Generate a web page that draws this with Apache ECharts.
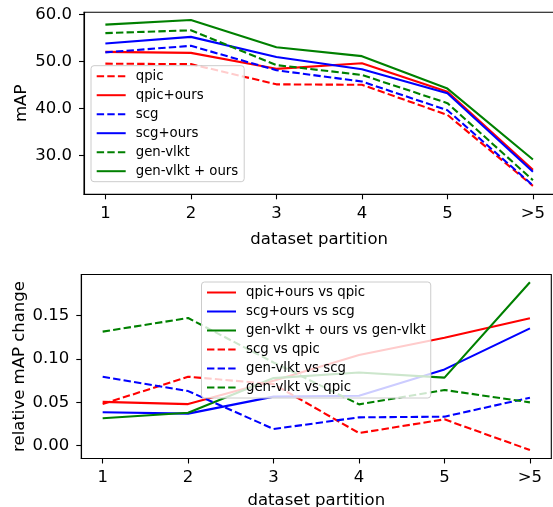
<!DOCTYPE html>
<html>
<head>
<meta charset="utf-8">
<script src="https://cdn.jsdelivr.net/npm/echarts@6/dist/echarts.min.js"></script>
<style>
html,body{margin:0;padding:0;background:#fff;}
#c{width:553px;height:507px;}
</style>
</head>
<body>
<div id="c"></div>
<script>
// ---- data ----
const categories = ['1', '2', '3', '4', '5', '>5'];

// top chart (mAP)
const qpic        = [49.5, 49.4, 45.1, 45.0, 38.6, 23.5];
const qpicOurs    = [52.0, 51.8, 48.4, 49.6, 43.5, 26.9];
const scg         = [51.9, 53.3, 48.1, 45.7, 39.6, 23.6];
const scgOurs     = [53.8, 55.2, 50.9, 48.3, 43.2, 26.5];
const genvlkt     = [56.0, 56.6, 49.2, 47.1, 41.1, 24.7];
const genvlktOurs = [57.8, 58.8, 53.0, 51.1, 44.2, 29.1];
const topTicks    = [30, 40, 50, 60];

// bottom chart (relative mAP change)
const qpicOursVsQpic       = [0.0505, 0.048, 0.075, 0.1046, 0.1246, 0.147];
const scgOursVsScg         = [0.0385, 0.037, 0.0566, 0.0577, 0.088, 0.1354];
const genvlktOursVsGenvlkt = [0.0316, 0.038, 0.078, 0.0845, 0.0785, 0.1885];
const scgVsQpic            = [0.048, 0.0796, 0.071, 0.0146, 0.0304, -0.005];
const genvlktVsScg         = [0.0796, 0.063, 0.0193, 0.0327, 0.0335, 0.0554];
const genvlktVsQpic        = [0.1316, 0.1473, 0.096, 0.0477, 0.0643, 0.050];
const bottomTicks          = [0, 0.05, 0.10, 0.15];

// ---- chart ----
const FONT = 'DejaVu Sans';
const RED = '#ff0000', BLUE = '#0000ff', GREEN = '#008000';
const DASH = [7.4, 3.2];
const xIdx = categories.map((_, i) => i);

function mk(name, arr, color, dashed, gi) {
  return {
    name: name, type: 'line', xAxisIndex: gi, yAxisIndex: gi,
    data: arr.map((v, i) => [i, v]),
    symbol: 'none', showSymbol: false, silent: true,
    lineStyle: { color: color, width: 2.1, type: dashed ? DASH : 'solid', cap: 'butt' },
    itemStyle: { color: color },
    z: 2
  };
}

function xAx(gi, nameGap) {
  return {
    type: 'value', gridIndex: gi, min: -0.25, max: 5.25,
    name: 'dataset partition', nameLocation: 'middle', nameGap: nameGap, nameMoveOverlap: false,
    nameTextStyle: { fontFamily: FONT, fontSize: 16.5, color: '#000' },
    axisLine: { show: true, onZero: false, lineStyle: { color: '#000', width: 1.1 } },
    axisTick: { show: true, inside: false, length: 5, customValues: xIdx, lineStyle: { color: '#000', width: 1.1 } },
    axisLabel: { show: true, customValues: xIdx, margin: 11, fontFamily: FONT, fontSize: 16.5, color: '#000',
      formatter: v => categories[Math.round(v)] },
    splitLine: { show: false }
  };
}

function yAx(gi, min, max, ticks, dec, name, nameGap) {
  return {
    type: 'value', gridIndex: gi, min: min, max: max,
    name: name, nameLocation: 'middle', nameRotate: 90, nameGap: nameGap, nameMoveOverlap: false,
    nameTextStyle: { fontFamily: FONT, fontSize: 16.5, color: '#000' },
    axisLine: { show: true, onZero: false, lineStyle: { color: '#000', width: 1.1 } },
    axisTick: { show: true, inside: false, length: 5, customValues: ticks, lineStyle: { color: '#000', width: 1.1 } },
    axisLabel: { show: true, customValues: ticks, margin: 12, fontFamily: FONT, fontSize: 16.5, color: '#000',
      formatter: v => Number(v).toFixed(dec) },
    splitLine: { show: false }
  };
}

const legendCommon = {
  orient: 'vertical',
  itemWidth: 29, itemHeight: 14, itemGap: 6,
  backgroundColor: 'rgba(255,255,255,0.8)',
  borderColor: '#cccccc', borderWidth: 1, borderRadius: 3,
  textStyle: { fontFamily: FONT, fontSize: 13.3, color: '#000', padding: [0, 0, 0, 5] },
  itemStyle: { opacity: 0, borderWidth: 0 },
  selectedMode: false,
  z: 10
};

const chart = echarts.init(document.getElementById('c'), null, { renderer: 'canvas' });
chart.setOption({
  animation: false,
  backgroundColor: '#fff',
  grid: [
    { left: 84, top: 12.3, width: 470.3, height: 182, show: true, borderColor: '#000', borderWidth: 1.1,
      backgroundColor: 'transparent', containLabel: false, outerBoundsMode: 'none' },
    { left: 81.3, top: 274.5, width: 470, height: 184, show: true, borderColor: '#000', borderWidth: 1.1,
      backgroundColor: 'transparent', containLabel: false, outerBoundsMode: 'none' }
  ],
  xAxis: [xAx(0, 37), xAx(1, 34)],
  yAxis: [
    yAx(0, 21.70, 60.43, topTicks, 1, 'mAP', 54),
    yAx(1, -0.01477, 0.1975, bottomTicks, 2, 'relative mAP change', 53)
  ],
  legend: [
    Object.assign({}, legendCommon, {
      left: 91, top: 65.7, padding: [4, 6, 4, 4.7],
      data: ['qpic', 'qpic+ours', 'scg', 'scg+ours', 'gen-vlkt', 'gen-vlkt + ours']
    }),
    Object.assign({}, legendCommon, {
      left: 201.5, top: 282, padding: [4, 5, 4, 4.5],
      data: ['qpic+ours vs qpic', 'scg+ours vs scg', 'gen-vlkt + ours vs gen-vlkt', 'scg vs qpic', 'gen-vlkt vs scg', 'gen-vlkt vs qpic']
    })
  ],
  series: [
    mk('qpic', qpic, RED, true, 0),
    mk('qpic+ours', qpicOurs, RED, false, 0),
    mk('scg', scg, BLUE, true, 0),
    mk('scg+ours', scgOurs, BLUE, false, 0),
    mk('gen-vlkt', genvlkt, GREEN, true, 0),
    mk('gen-vlkt + ours', genvlktOurs, GREEN, false, 0),
    mk('qpic+ours vs qpic', qpicOursVsQpic, RED, false, 1),
    mk('scg+ours vs scg', scgOursVsScg, BLUE, false, 1),
    mk('gen-vlkt + ours vs gen-vlkt', genvlktOursVsGenvlkt, GREEN, false, 1),
    mk('scg vs qpic', scgVsQpic, RED, true, 1),
    mk('gen-vlkt vs scg', genvlktVsScg, BLUE, true, 1),
    mk('gen-vlkt vs qpic', genvlktVsQpic, GREEN, true, 1)
  ]
});
</script>
</body>
</html>
